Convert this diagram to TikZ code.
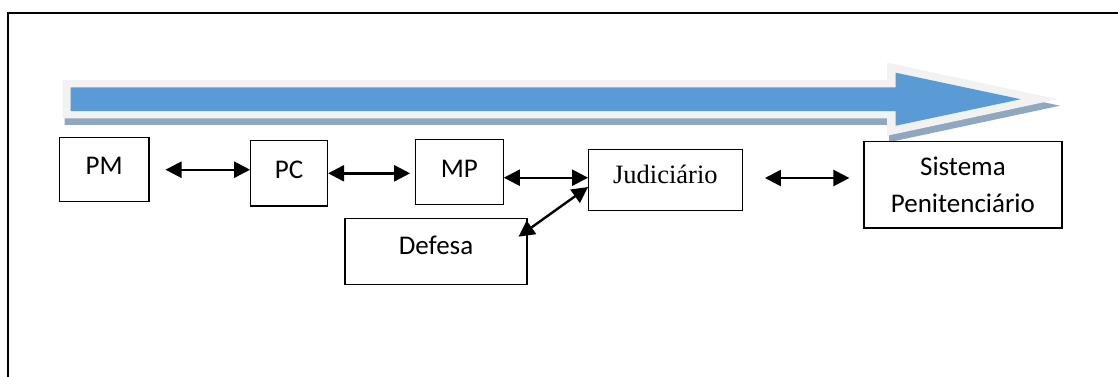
\documentclass[tikz,border=0pt]{standalone}
\usepackage{fontspec}
\setmainfont{Carlito}
\newfontfamily\timesfont{Liberation Serif}
\usetikzlibrary{arrows.meta,calc}
\definecolor{arrblue}{HTML}{5B9BD5}
\definecolor{arrlight}{HTML}{F2F2F2}
\definecolor{arrshadow}{HTML}{8FA7C0}
\begin{document}
\begin{tikzpicture}[x=1pt,y=-1pt,
  box/.style={draw, line width=1.2pt, inner sep=0pt, font=\fontsize{27}{37}\selectfont, text height=18pt, text depth=8pt},
  link/.style={line width=2.4pt, {Triangle[length=16pt,width=16pt]}-{Triangle[length=16pt,width=16pt]}}]
\useasboundingbox (0,0) rectangle (1118,376);
\draw[line width=2.2pt] (7.9,13.3) rectangle (1140,400);
% big process arrow
\fill[arrshadow, shift={(2,6.5)}] (62.5,80) -- (887,80) -- (887,62.7) -- (1058,99.2) -- (887,135.7) -- (887,118.3) -- (62.5,118.3) -- cycle;
\fill[arrlight] (62.5,80) -- (887,80) -- (887,62.7) -- (1058,99.2) -- (887,135.7) -- (887,118.3) -- (62.5,118.3) -- cycle;
\fill[arrblue] (70.7,87.3) -- (895.7,87.3) -- (895.7,72.7) -- (1020.7,99.2) -- (895.7,125.7) -- (895.7,111) -- (70.7,111) -- cycle;
% boxes
\node[box, minimum width=89.6pt, minimum height=64pt] (PM) at (104.1,169.7) {PM};
\node[box, minimum width=76.8pt, minimum height=65.3pt] (PC) at (289.1,173.3) {PC};
\node[box, minimum width=87.8pt, minimum height=65pt] (MP) at (459.3,172.2) {MP};
\node[box, minimum width=182pt, minimum height=66pt, text depth=11pt] (Def) at (436,251.3) {Defesa};
\node[box, minimum width=153.5pt, minimum height=61.3pt, text depth=11pt, font=\timesfont\fontsize{26.5}{32}\selectfont] (Jud) at (665.4,180) {Judiciário};
\node[box, minimum width=198pt, minimum height=86.7pt, align=center, text height=55pt, text depth=-5pt] (Sis) at (962.9,184.7) {Sistema\\Penitenciário};
% connectors
\draw[link, shorten <=16pt] (PM.east) -- (PM.east -| PC.west);
\draw[link, shorten >=4.7pt] (PC.east) -- (PC.east -| MP.west);
\draw[link] ($(MP.east)+(0,5.5)$) -- ($(MP.east -| Jud.west)+(0,5.5)$);
\draw[link] ($(Def.north east)+(-9.1,19)$) -- ($(Jud.west)+(0,7)$);
\draw[link, shorten <=22.2pt, shorten >=13.9pt] ($(Jud.east)+(0,-2)$) -- ($(Jud.east -| Sis.west)+(0,-2)$);
\end{tikzpicture}
\end{document}
